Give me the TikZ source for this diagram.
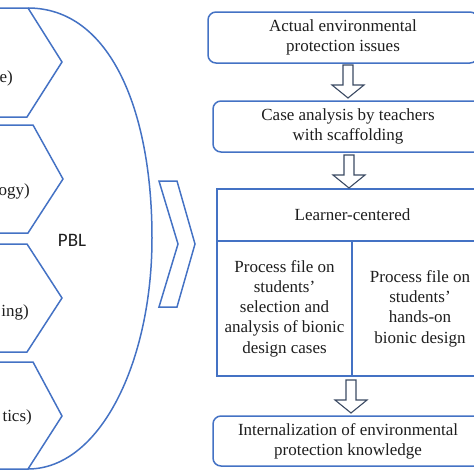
\documentclass[tikz,border=0pt]{standalone}
\usepackage{fontspec}
\setmainfont{Liberation Serif}
\newfontfamily\pblfont{Carlito}
\usetikzlibrary{calc}
\definecolor{lineblue}{HTML}{4472C4}
\definecolor{arrowgray}{HTML}{3B4A63}
\definecolor{txt}{HTML}{1E1E1E}
\newcommand{\boxfont}{\fontsize{17}{20.3}\selectfont}
\begin{document}
\begin{tikzpicture}[x=1pt,y=-1pt,
  line/.style={draw=lineblue, line width=1.5pt},
  box/.style={line, rounded corners=8pt, minimum width=270pt, minimum height=51pt,
    inner sep=0pt, outer sep=0pt, align=center, font=\boxfont, text=txt},
  cell/.style={line, inner sep=0pt, outer sep=0pt, align=center, font=\boxfont, text=txt},
  sidetext/.style={anchor=base east, inner sep=0pt, font=\boxfont, text=txt},
  hollowarrow/.pic={\draw[draw=arrowgray, line width=1.1pt, fill=white, line join=miter]
    (-5,0) -- (5,0) -- (5,20) -- (16,20) -- (0,33) -- (-16,20) -- (-5,20) -- cycle;}
]
\useasboundingbox (0,0) rectangle (474,474);
\clip (0,0) rectangle (474,474);

% left chevrons (cut by the left edge)
\draw[line, line join=miter] (-5,8) -- (28,8) -- (62,62) -- (27,117) -- (-5,117);
\draw[line, line join=miter] (-5,125) -- (33,125) -- (63,179) -- (28,233) -- (-5,233);
\draw[line, line join=miter] (-5,244) -- (27,244) -- (62,298) -- (27,352) -- (-5,352);
\draw[line, line join=miter] (-5,362) -- (33,362) -- (62,416) -- (28,469) -- (-5,469);
\node[sidetext] (t1) at (13,82) {e)};
\node[sidetext] (t2) at (30,195) {ogy)};
\node[sidetext] (t3) at (29,316) {ing)};
\node[sidetext] (t4) at (32,421) {tics)};

% big arc
\draw[line] (28,8) .. controls (110,8) and (152,110) .. (152,238)
  .. controls (152,362) and (100,469) .. (28,469);
\node[font=\pblfont\fontsize{19}{22}\selectfont, text=txt, inner sep=0pt] (pbl) at (72,240) {PBL};

% middle chevron
\draw[line, line join=miter] (159,181) -- (177,181) -- (195,244) -- (177,307) -- (159,307) -- (178,244) -- cycle;

% right column
\node[box] (b1) at (343,37.5) {Actual environmental\\protection issues};
\node[box] (b2) at (348,126.5) {Case analysis by teachers\\with scaffolding};
\node[cell, minimum width=271pt, minimum height=52pt] (hdr) at (352.5,215) {Learner-centered};
\node[cell, minimum width=135pt, minimum height=135pt, anchor=north west] (lc) at (hdr.south west) {Process file on\\students’\\selection and\\analysis of bionic\\design cases};
\node[cell, minimum width=136pt, minimum height=135pt, anchor=north west] (rc) at (lc.north east) {Process file on\\students’\\hands-on\\bionic design};
\node[box, minimum height=50pt] (b4) at (348,441) {Internalization of environmental\\protection knowledge};

% hollow arrows
\pic at (348,65) {hollowarrow};
\pic at (349,155) {hollowarrow};
\pic at (351,380) {hollowarrow};
\end{tikzpicture}
\end{document}
